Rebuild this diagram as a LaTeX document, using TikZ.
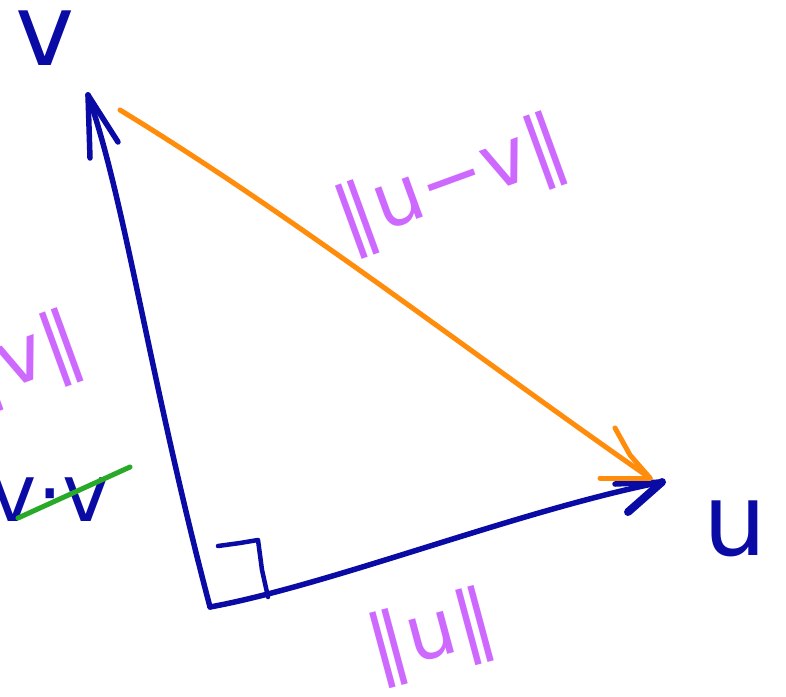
\documentclass[tikz,border=0pt]{standalone}
\usepackage{fontspec}
\setmainfont{DejaVu Sans}
\begin{document}
\begin{tikzpicture}[x=1pt,y=-1pt,
  bluepen/.style={draw={rgb,255:red,10;green,10;blue,165}, line width=5.5pt, line cap=round, line join=round},
  orangepen/.style={draw={rgb,255:red,255;green,140;blue,10}, line width=5pt, line cap=round, line join=round},
  greenpen/.style={draw={rgb,255:red,40;green,170;blue,40}, line width=5pt, line cap=round},
  purpletext/.style={text={rgb,255:red,205;green,105;blue,255}, inner sep=0pt, font=\fontsize{78}{78}\selectfont},
  bluetext/.style={text={rgb,255:red,10;green,10;blue,165}, inner sep=0pt, font=\fontsize{100}{100}\selectfont}]
\useasboundingbox (0,0) rectangle (786,696);
\clip (0,0) rectangle (786,696);
% points
\coordinate (O) at (210,607);
\coordinate (V) at (88,95);
\coordinate (U) at (662,482);
\coordinate (A) at (120,110);
\coordinate (B) at (650,478);
% vectors
\draw[bluepen] (O) .. controls (150,380) and (125,200) .. (V);
\draw[bluepen] (V) -- (90,158);
\draw[bluepen] (V) -- (118,142);
\draw[bluepen] (O) .. controls (330,585) and (520,510) .. (U);
\draw[bluepen] (U) -- (615,484);
\draw[bluepen, line width=8pt] (U) -- (628,512);
\draw[orangepen] (A) .. controls (300,220) and (480,360) .. (B);
\draw[orangepen] (B) -- (630,455) -- (615,428);
\draw[orangepen] (B) -- (600,478);
% right angle mark
\draw[bluepen, line width=4.5pt] (218,546) -- (240,543) -- (258,540) -- (262,570) -- (268,597);
% labels
\node[bluetext] (lv) at (45,38) {v};
\node[bluetext] (lu) at (735,528) {u};
\node[purpletext, rotate=20] (luv) at (452,185) {‖u−v‖};
\node[purpletext, rotate=20] (lnv) at (22,362) {‖v‖};
\node[purpletext, rotate=15] (lnu) at (432,637) {‖u‖};
\node[bluetext, font=\fontsize{80}{80}\selectfont] (vv) at (50,500) {v·v};
\draw[greenpen] (18,518) -- (130,467);
\end{tikzpicture}
\end{document}
